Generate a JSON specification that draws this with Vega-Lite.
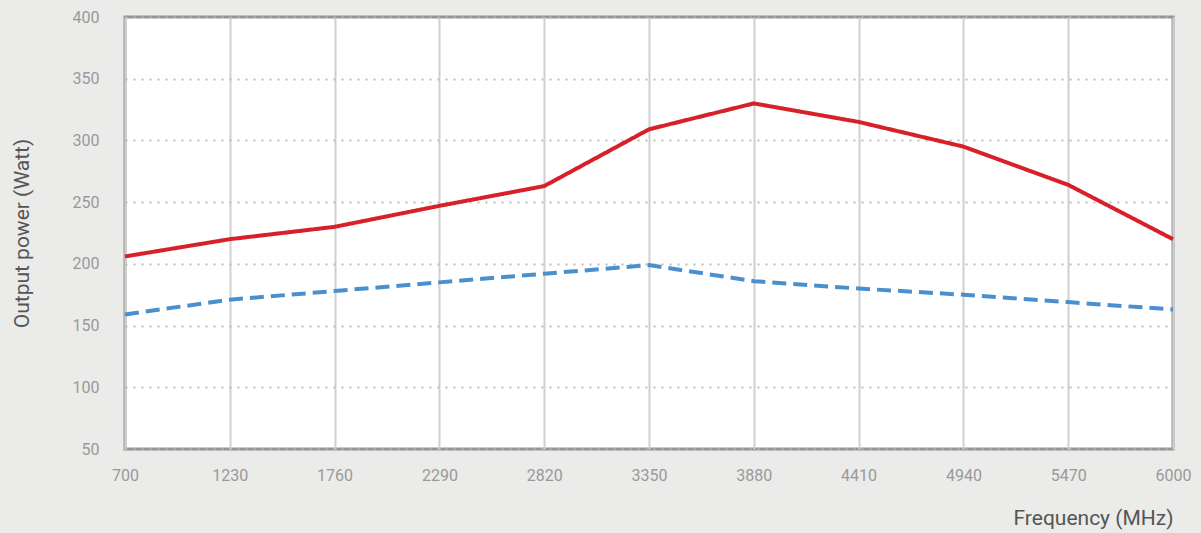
{
  "$schema": "https://vega.github.io/schema/vega-lite/v6.json",
  "width": 1048,
  "height": 432,
  "autosize": {"type": "none"},
  "padding": {"left": 125, "top": 17, "right": 28, "bottom": 84},
  "background": "#ebebea",
  "config": {
    "view": {"stroke": "#959595", "strokeWidth": 3, "fill": "#ffffff"},
    "font": "Roboto"
  },
  "data": {
    "values": [
      {"f": 700, "s": "a", "p": 206}, {"f": 1230, "s": "a", "p": 220}, {"f": 1760, "s": "a", "p": 230},
      {"f": 2290, "s": "a", "p": 247}, {"f": 2820, "s": "a", "p": 263}, {"f": 3350, "s": "a", "p": 309},
      {"f": 3880, "s": "a", "p": 330}, {"f": 4410, "s": "a", "p": 315}, {"f": 4940, "s": "a", "p": 295},
      {"f": 5470, "s": "a", "p": 264}, {"f": 6000, "s": "a", "p": 220},
      {"f": 700, "s": "b", "p": 159}, {"f": 1230, "s": "b", "p": 171}, {"f": 1760, "s": "b", "p": 178},
      {"f": 2290, "s": "b", "p": 185}, {"f": 2820, "s": "b", "p": 192}, {"f": 3350, "s": "b", "p": 199},
      {"f": 3880, "s": "b", "p": 186}, {"f": 4410, "s": "b", "p": 180}, {"f": 4940, "s": "b", "p": 175},
      {"f": 5470, "s": "b", "p": 169}, {"f": 6000, "s": "b", "p": 163}
    ]
  },
  "mark": {"type": "line", "strokeWidth": 4},
  "encoding": {
    "x": {
      "field": "f", "type": "quantitative",
      "scale": {"domain": [700, 6000], "nice": false, "zero": false},
      "axis": {
        "values": [700, 1230, 1760, 2290, 2820, 3350, 3880, 4410, 4940, 5470, 6000],
        "format": "d",
        "title": "Frequency (MHz)", "titleAnchor": "end", "titleAlign": "right",
        "titleFontSize": 21, "titleFontWeight": "normal", "titleColor": "#555555", "titlePadding": 24,
        "labelFontSize": 16, "labelColor": "#999999", "labelPadding": 18, "labelFlush": false,
        "domain": false, "ticks": false,
        "grid": true, "gridColor": "#d0d0d0", "gridWidth": 2
      }
    },
    "y": {
      "field": "p", "type": "quantitative",
      "scale": {"domain": [50, 400], "nice": false, "zero": false},
      "axis": {
        "values": [50, 100, 150, 200, 250, 300, 350, 400],
        "format": "d",
        "title": "Output power (Watt)", "titleFontSize": 21, "titleFontWeight": "normal",
        "titleColor": "#555555", "titlePadding": 40,
        "labelFontSize": 16, "labelColor": "#999999", "labelPadding": 26,
        "domain": false, "ticks": false,
        "grid": true, "gridColor": "#bbbbbb", "gridWidth": 2, "gridDash": [2, 6]
      }
    },
    "color": {
      "field": "s", "type": "nominal",
      "scale": {"domain": ["a", "b"], "range": ["#d7202a", "#4a90cf"]},
      "legend": null
    },
    "strokeDash": {
      "field": "s", "type": "nominal",
      "scale": {"domain": ["a", "b"], "range": [[1, 0], [14, 7]]},
      "legend": null
    }
  }
}
